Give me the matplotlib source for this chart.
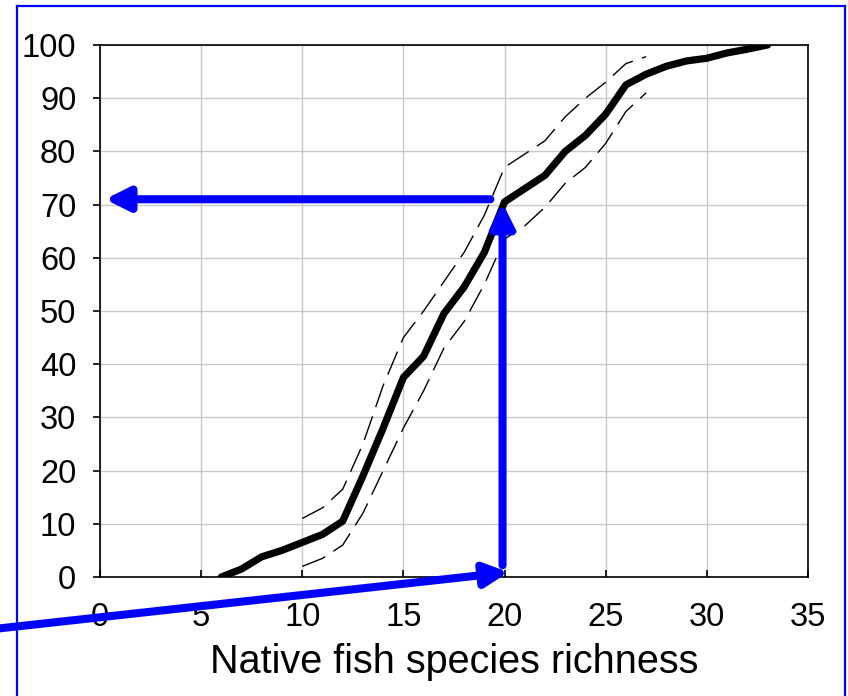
import matplotlib
matplotlib.use("Agg")
import matplotlib.pyplot as plt
from matplotlib.lines import Line2D

plt.rcParams["font.family"] = ["Liberation Sans", "DejaVu Sans"]

# cumulative percentage vs native fish species richness
richness = [6, 7, 8, 9, 10, 11, 12, 13, 14, 15, 16, 17, 18, 19, 20,
            21, 22, 23, 24, 25, 26, 27, 28, 29, 30, 31, 32, 33]
cum_pct = [0, 1.5, 3.8, 5, 6.5, 8, 10.5, 19, 28, 37.5, 41.5, 49.5, 54.5, 61, 70.5,
           73, 75.5, 80, 83, 87, 92.5, 94.5, 96, 97, 97.5, 98.5, 99.2, 100]

# confidence bounds (dashed)
ci_x = [10, 11, 12, 13, 14, 15, 16, 17, 18, 19, 20, 21, 22, 23, 24, 25, 26, 27]
ci_upper = [11, 13, 16.5, 25, 36, 45, 50, 55.5, 61, 68, 77, 79.5, 82, 86.5, 90, 93, 96.5, 97.8]
ci_lower = [2, 3.5, 6, 12, 20, 28, 35, 43, 48, 55, 63.5, 66, 69.5, 74, 77, 81.5, 87.5, 91]

xticks = [0, 5, 10, 15, 20, 25, 30, 35]
yticks = [0, 10, 20, 30, 40, 50, 60, 70, 80, 90, 100]

# reading arrows (tail, head) in data units
arrow_up = ((19.9, 2.2), (19.9, 70.3))
arrow_left = ((19.3, 71.0), (0.25, 71.0))
arrow_in = ((-5.3, -9.8), (20.2, 0.9))

fig = plt.figure(figsize=(8.48, 6.96), dpi=100)
ax = fig.add_axes([0.1179, 0.1710, 0.8349, 0.7644])

ax.plot(ci_x, ci_upper, color="black", lw=1.0, dashes=(18, 7))
ax.plot(ci_x, ci_lower, color="black", lw=1.0, dashes=(18, 7))
ax.plot(richness, cum_pct, color="black", lw=5.2, solid_capstyle="round")

ax.set_xlim(0, 35)
ax.set_ylim(0, 100)
ax.set_xticks(xticks)
ax.set_yticks(yticks)
ax.grid(True, color="#c8c8c8", lw=1)
ax.set_axisbelow(True)
ax.tick_params(axis="y", direction="out", length=5, width=1.2, pad=12, labelsize=23.5)
ax.tick_params(axis="x", direction="in", length=5, width=1.2, pad=18, labelsize=23.5)
for s in ax.spines.values():
    s.set_linewidth(1.2)
ax.set_xlabel("Native fish species richness", fontsize=28.5, labelpad=7.5)

for tail, head in [arrow_up, arrow_left, arrow_in]:
    ax.annotate("", xy=head, xytext=tail, annotation_clip=False,
                arrowprops=dict(arrowstyle="-|>,head_length=14,head_width=7",
                                mutation_scale=1, lw=5.8, color="#0000ff",
                                shrinkA=0, shrinkB=0))

# blue frame: left, top, right edges only
fw, fh = 848, 696
for xs, ys in [([17, 17], [0, 6]), ([17, 845], [6, 6]), ([845, 845], [6, 0])]:
    fig.add_artist(Line2D([x / fw for x in xs], [1 - y / fh if y else 0 for y in ys],
                          color="#0000ff", lw=1.6))

fig.savefig("out.png", dpi=100)
